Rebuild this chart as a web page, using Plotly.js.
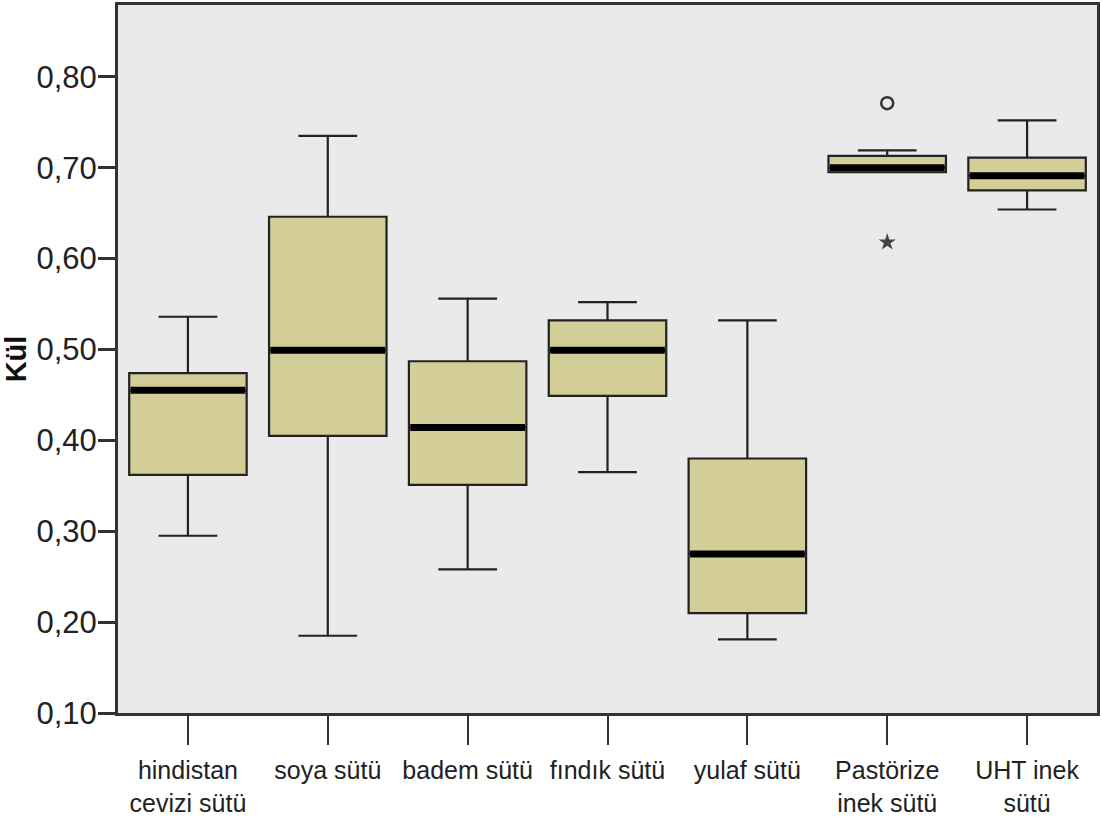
<!DOCTYPE html>
<html>
<head>
<meta charset="utf-8">
<script src="https://cdn.plot.ly/plotly-3.0.1.min.js"></script>
<style>
  html, body { margin: 0; padding: 0; background: #ffffff; }
  #chart { width: 1102px; height: 832px; }
</style>
</head>
<body>
<div id="chart"></div>
<script>
// ---- Data ----
const categories = [
  "hindistan<br>cevizi sütü",
  "soya sütü",
  "badem sütü",
  "fındık sütü",
  "yulaf sütü",
  "Pastörize<br>inek sütü",
  "UHT inek<br>sütü"
];
const lowerWhisker = [0.295, 0.185, 0.258, 0.365, 0.181, 0.695, 0.654];
const q1Values     = [0.362, 0.405, 0.351, 0.449, 0.210, 0.695, 0.675];
const medianValues = [0.455, 0.499, 0.414, 0.499, 0.275, 0.700, 0.691];
const q3Values     = [0.474, 0.646, 0.487, 0.532, 0.380, 0.713, 0.711];
const upperWhisker = [0.536, 0.735, 0.556, 0.552, 0.532, 0.719, 0.752];

// outliers (circle) and extremes (star) — category index and value
const outlierCat = [5];
const outlierVal = [0.771];
const extremeCat = [5];
const extremeVal = [0.618];

const yTickVals = [0.10, 0.20, 0.30, 0.40, 0.50, 0.60, 0.70, 0.80];

// ---- Build traces ----
const idx = categories.map((_, i) => i);
const boxWidth = 0.84;

const boxTrace = {
  type: 'box',
  x: idx,
  q1: q1Values,
  median: medianValues,
  q3: q3Values,
  lowerfence: lowerWhisker,
  upperfence: upperWhisker,
  width: boxWidth,
  whiskerwidth: 0.5,
  fillcolor: '#D3CE97',
  line: { color: '#222222', width: 2.2 },
  boxpoints: false,
  hoverinfo: 'skip',
  showlegend: false
};

const medX = [], medY = [];
medianValues.forEach((m, i) => {
  medX.push(i - boxWidth / 2 + 0.01, i + boxWidth / 2 - 0.01, null);
  medY.push(m, m, null);
});
const medianTrace = {
  type: 'scatter', mode: 'lines',
  x: medX, y: medY,
  line: { color: '#000000', width: 7 },
  hoverinfo: 'skip', showlegend: false
};

const outlierTrace = {
  type: 'scatter', mode: 'markers',
  x: outlierCat, y: outlierVal,
  marker: { symbol: 'circle-open', size: 12, color: '#333333', line: { width: 2.5, color: '#333333' } },
  hoverinfo: 'skip', showlegend: false
};
const extremeTrace = {
  type: 'scatter', mode: 'markers',
  x: extremeCat, y: extremeVal,
  marker: { symbol: 'star', size: 13, color: '#444444' },
  hoverinfo: 'skip', showlegend: false
};

const fontFam = '"Liberation Sans", Arial, sans-serif';

const layout = {
  width: 1102,
  height: 832,
  margin: { l: 118, r: 5, t: 5, b: 119 },
  paper_bgcolor: '#ffffff',
  plot_bgcolor: '#EAEAEA',
  separators: ', ',
  showlegend: false,
  font: { family: fontFam, color: '#222222', size: 25 },
  xaxis: {
    range: [-0.5, 6.5],
    tickmode: 'array',
    tickvals: idx,
    ticktext: categories,
    tickangle: 0,
    ticks: 'outside',
    ticklen: 29,
    tickwidth: 2,
    tickcolor: '#333333',
    ticklabelstandoff: 4,
    showline: true,
    linecolor: '#333333',
    linewidth: 3,
    mirror: true,
    showgrid: false,
    zeroline: false,
    tickfont: { family: fontFam, size: 25, color: '#222222' },
    fixedrange: true
  },
  yaxis: {
    range: [0.10, 0.879],
    tickmode: 'array',
    tickvals: yTickVals,
    tickformat: '.2f',
    ticks: 'outside',
    ticklen: 17,
    tickwidth: 3,
    tickcolor: '#333333',
    ticklabelstandoff: -5,
    showline: true,
    linecolor: '#333333',
    linewidth: 3,
    mirror: true,
    showgrid: false,
    zeroline: false,
    tickfont: { family: fontFam, size: 31, color: '#222222' },
    title: { text: '<b>Kül</b>', font: { family: fontFam, size: 29, color: '#111111' }, standoff: 2 },
    fixedrange: true
  }
};

Plotly.newPlot('chart', [boxTrace, medianTrace, outlierTrace, extremeTrace], layout, { displayModeBar: false, staticPlot: true });
</script>
</body>
</html>
